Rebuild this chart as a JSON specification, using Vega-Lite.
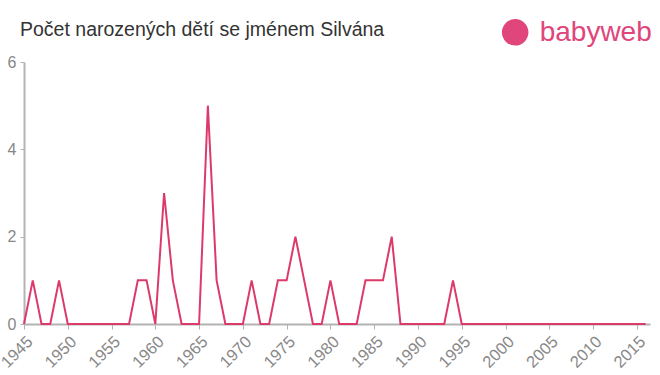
{
  "$schema": "https://vega.github.io/schema/vega-lite/v6.json",
  "width": 626,
  "height": 262,
  "autosize": {"type": "none"},
  "padding": {"left": 24, "top": 62, "right": 10, "bottom": 51},
  "background": "white",
  "config": {"view": {"stroke": null}, "font": "Liberation Sans"},
  "title": {
    "text": "Počet narozených dětí se jménem Silvána",
    "anchor": "start",
    "frame": "group",
    "fontSize": 19.5,
    "fontWeight": "normal",
    "color": "#333333",
    "font": "Liberation Sans",
    "dx": -4,
    "offset": 22,
    "dy": 43
  },
  "data": {
    "values": [
      {"year": 1945, "count": 0}, {"year": 1946, "count": 1}, {"year": 1947, "count": 0},
      {"year": 1948, "count": 0}, {"year": 1949, "count": 1}, {"year": 1950, "count": 0},
      {"year": 1951, "count": 0}, {"year": 1952, "count": 0}, {"year": 1953, "count": 0},
      {"year": 1954, "count": 0}, {"year": 1955, "count": 0}, {"year": 1956, "count": 0},
      {"year": 1957, "count": 0}, {"year": 1958, "count": 1}, {"year": 1959, "count": 1},
      {"year": 1960, "count": 0}, {"year": 1961, "count": 3}, {"year": 1962, "count": 1},
      {"year": 1963, "count": 0}, {"year": 1964, "count": 0}, {"year": 1965, "count": 0},
      {"year": 1966, "count": 5}, {"year": 1967, "count": 1}, {"year": 1968, "count": 0},
      {"year": 1969, "count": 0}, {"year": 1970, "count": 0}, {"year": 1971, "count": 1},
      {"year": 1972, "count": 0}, {"year": 1973, "count": 0}, {"year": 1974, "count": 1},
      {"year": 1975, "count": 1}, {"year": 1976, "count": 2}, {"year": 1977, "count": 1},
      {"year": 1978, "count": 0}, {"year": 1979, "count": 0}, {"year": 1980, "count": 1},
      {"year": 1981, "count": 0}, {"year": 1982, "count": 0}, {"year": 1983, "count": 0},
      {"year": 1984, "count": 1}, {"year": 1985, "count": 1}, {"year": 1986, "count": 1},
      {"year": 1987, "count": 2}, {"year": 1988, "count": 0}, {"year": 1989, "count": 0},
      {"year": 1990, "count": 0}, {"year": 1991, "count": 0}, {"year": 1992, "count": 0},
      {"year": 1993, "count": 0}, {"year": 1994, "count": 1}, {"year": 1995, "count": 0},
      {"year": 1996, "count": 0}, {"year": 1997, "count": 0}, {"year": 1998, "count": 0},
      {"year": 1999, "count": 0}, {"year": 2000, "count": 0}, {"year": 2001, "count": 0},
      {"year": 2002, "count": 0}, {"year": 2003, "count": 0}, {"year": 2004, "count": 0},
      {"year": 2005, "count": 0}, {"year": 2006, "count": 0}, {"year": 2007, "count": 0},
      {"year": 2008, "count": 0}, {"year": 2009, "count": 0}, {"year": 2010, "count": 0},
      {"year": 2011, "count": 0}, {"year": 2012, "count": 0}, {"year": 2013, "count": 0},
      {"year": 2014, "count": 0}, {"year": 2015, "count": 0}, {"year": 2016, "count": 0}
    ]
  },
  "layer": [
    {
      "mark": {"type": "line", "color": "#dc3a6a", "strokeWidth": 2, "clip": false},
      "encoding": {
        "x": {
          "field": "year",
          "type": "quantitative",
          "scale": {"domain": [1945, 2016.5], "nice": false, "zero": false},
          "axis": {
            "title": null,
            "values": [1945, 1950, 1955, 1960, 1965, 1970, 1975, 1980, 1985, 1990, 1995, 2000, 2005, 2010, 2015],
            "format": "d",
            "grid": false,
            "domainColor": "#b3b3b3",
            "domainWidth": 2,
            "tickColor": "#b3b3b3",
            "tickSize": 5,
            "labelAngle": -45,
            "labelAlign": "right",
            "labelBaseline": "top",
            "labelFontSize": 16.5,
            "labelColor": "#888888",
            "labelPadding": 4,
            "labelFlush": false,
            "labelOverlap": false
          }
        },
        "y": {
          "field": "count",
          "type": "quantitative",
          "scale": {"domain": [0, 6], "nice": false},
          "axis": {
            "title": null,
            "values": [0, 2, 4, 6],
            "grid": false,
            "domainColor": "#b3b3b3",
            "domainWidth": 2,
            "tickColor": "#b3b3b3",
            "tickSize": 4,
            "labelFontSize": 16,
            "labelColor": "#888888",
            "labelPadding": 4
          }
        }
      }
    },
    {
      "data": {"values": [{"x": 2003.9, "y": 6.66, "label": "babyweb"}]},
      "mark": {"type": "text", "color": "#e0457b", "fontSize": 28, "font": "Liberation Sans", "align": "left", "baseline": "middle", "clip": false},
      "encoding": {
        "x": {"field": "x", "type": "quantitative"},
        "y": {"field": "y", "type": "quantitative"},
        "text": {"field": "label"}
      }
    },
    {
      "data": {"values": [{"x": 2001.1, "y": 6.68}]},
      "mark": {"type": "point", "filled": true, "color": "#e0457b", "size": 700, "opacity": 1, "clip": false},
      "encoding": {
        "x": {"field": "x", "type": "quantitative"},
        "y": {"field": "y", "type": "quantitative"}
      }
    }
  ]
}
